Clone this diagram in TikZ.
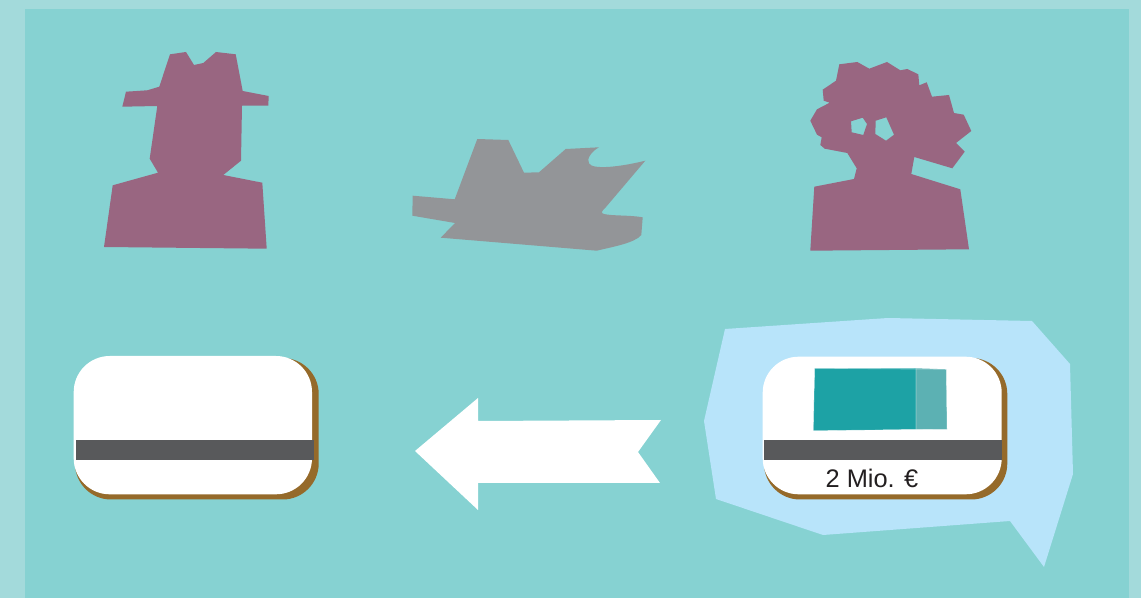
\documentclass[tikz,border=0pt]{standalone}
\usepackage{fontspec}
\setmainfont{Liberation Sans}
\definecolor{outerbg}{HTML}{A3DADB}
\definecolor{innerbg}{HTML}{86D2D2}
\definecolor{person}{HTML}{996681}
\definecolor{plane}{HTML}{939598}
\definecolor{cardshadow}{HTML}{956A2A}
\definecolor{stripe}{HTML}{58595B}
\definecolor{tealdark}{HTML}{1DA2A5}
\definecolor{teallight}{HTML}{5CB1B3}
\definecolor{bubble}{HTML}{B8E4FA}
\definecolor{labeltext}{HTML}{231F20}
\tikzset{
  personshape/.style={fill=person,even odd rule},
  planeshape/.style={fill=plane},
  cardback/.style={fill=cardshadow,rounded corners=18pt},
  cardface/.style={fill=white,rounded corners=18pt},
  stripebar/.style={fill=stripe},
  notedark/.style={fill=tealdark},
  notelight/.style={fill=teallight},
}
\begin{document}
\begin{tikzpicture}[x=0.5pt,y=-0.5pt]
\useasboundingbox (0,0) rectangle (1141,598);
\fill[outerbg] (0,0) rectangle (1141,598);
\fill[innerbg] (25,9) rectangle (1129,598);
% man with hat
\fill[personshape] (170,54.3) -- (186,52) -- (194,65) -- (203.3,63) -- (216,52) -- (235.7,54.3) -- (242.7,91) -- (268.7,96) -- (268.3,105.7) -- (242,105.7) -- (241,160.7) -- (223.3,175) -- (262.3,182.7) -- (266.7,248.7) -- (104,247) -- (112.7,185.3) -- (158,172.7) -- (149.7,158.7) -- (157.3,106) -- (122.3,106.7) -- (126,91.7) -- (147.3,90.3) -- (159.3,86.7) -- cycle;
% woman with curly hair
\fill[personshape] (839.3,64.3) -- (857.3,62) -- (869.3,68.7) -- (887,62) -- (900.3,70.3) -- (907.3,69) -- (918.3,74.3) -- (919.3,85.3) -- (926.7,82.3) -- (932,96.7) -- (949,95) -- (954,113) -- (963.7,114.7) -- (971.3,131) -- (956,143) -- (964.7,151.7) -- (952.3,168.3) -- (914.3,157) -- (911.3,174) -- (960.3,189.3) -- (969,249.3) -- (810.3,250.7) -- (814.3,186.7) -- (854,179) -- (856.7,168.3) -- (847.3,153) -- (824.7,148.7) -- (820.3,145) -- (821.7,137.3) -- (817,134.7) -- (810.3,120.7) -- (817,109.3) -- (829.7,102.7) -- (823.7,100.7) -- (822.7,89.7) -- (836,80.7) -- cycle
 (851,121.3) -- (862.7,117.7) -- (867,124) -- (863.3,135) -- (851.7,132.3) -- cycle
 (875.7,120.7) -- (886.3,117.3) -- (894,134.7) -- (886,140.7) -- (875.3,134) -- cycle;
% plane
\fill[planeshape] (477.3,139) -- (508.3,140) -- (524,172.7) -- (539,172.3) -- (565.7,149) -- (599,147.3)
 .. controls (592,151) and (586,159) .. (589,163.3)
 .. controls (592,170) and (620,167) .. (645.3,160.7)
 -- (606,207) .. controls (602,211) and (600,213) .. (604,214)
 .. controls (612,216) and (630,215) .. (642.7,217.3)
 -- (641.3,235) .. controls (635,243) and (612,247) .. (596.7,250.7)
 -- (440.7,237.7) -- (455,223) -- (412.3,215.7) -- (412.7,195.7) -- (454.7,199.3) -- cycle;
% speech bubble
\fill[bubble] (725,329) -- (888,318) -- (1032,321) -- (1070,364) -- (1073,474) -- (1044,567) -- (1010,521) -- (823,535) -- (716,499) -- (704,421) -- cycle;
% arrow
\fill[white] (478,398) -- (415,451) -- (478,510) -- (478,483) -- (660,483) -- (638,452) -- (661,420) -- (478,421) -- cycle;
% left card
\fill[cardback] (75,358) rectangle (318.7,499.5);
\fill[cardface] (73.7,356) rectangle (312,494.3);
\fill[stripebar] (75.7,440) rectangle (313.7,460);
% right card
\fill[cardback] (764,358) rectangle (1007.3,499.5);
\fill[cardface] (762.7,356.7) rectangle (1001.7,494.3);
\fill[stripebar] (764,440) rectangle (1001.7,460);
\fill[notedark] (814.7,368.3) -- (916,368.3) -- (916,429.3) -- (813.3,430.7) -- cycle;
\fill[notelight] (916,368.3) -- (946.3,369.3) -- (947,429.3) -- (916,429.3) -- cycle;
\draw[white,draw opacity=0.4,line width=0.3pt] (814.7,368.3) -- (946.3,369.3) -- (947,429.3) -- (813.3,430.7) -- cycle (916,368.3) -- (916,429.3);
\node[text=labeltext,font=\fontsize{12.7pt}{14pt}\selectfont,inner sep=0pt] (amount) at (872,478.5) {2 Mio. €};
\end{tikzpicture}
\end{document}
